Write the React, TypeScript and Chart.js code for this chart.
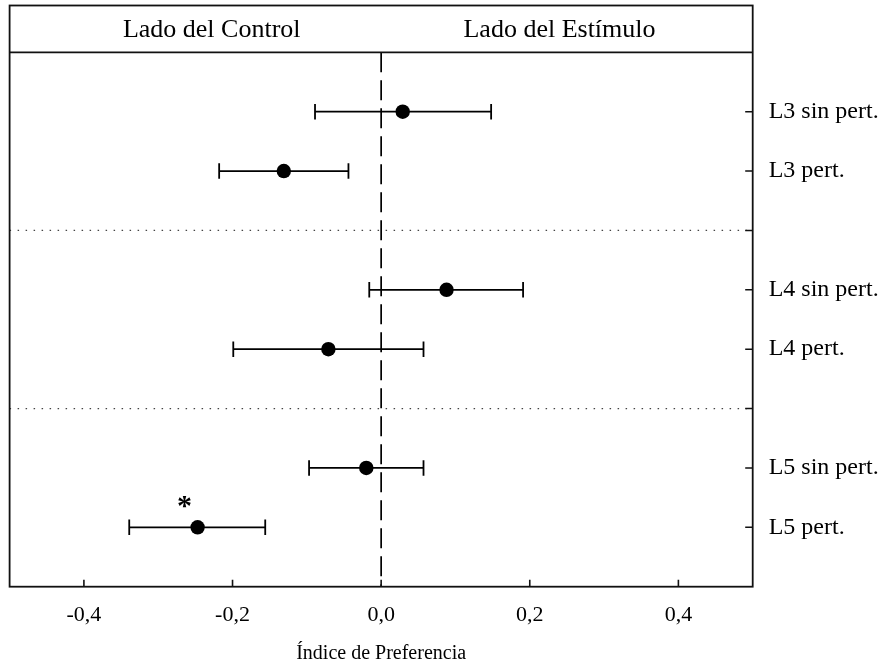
import React, { useEffect, useRef } from "react";
import { Chart, registerables } from "chart.js";

Chart.register(...registerables);

// ---- data ----
const rowLabels = ["L3 sin pert.", "L3 pert.", "L4 sin pert.", "L4 pert.", "L5 sin pert.", "L5 pert."];
const rowPositions = [1, 2, 4, 5, 7, 8];
const separatorPositions = [3, 6];
const means = [0.029, -0.131, 0.088, -0.071, -0.02, -0.247];
const lowerCI = [-0.089, -0.218, -0.016, -0.199, -0.097, -0.339];
const upperCI = [0.148, -0.044, 0.191, 0.057, 0.057, -0.156];
const significant = [false, false, false, false, false, true];
const xTicks = [-0.4, -0.2, 0, 0.2, 0.4];
const yTickPositions = [1, 2, 3, 4, 5, 6, 7, 8];
const headerLabels = ["Lado del Control", "Lado del Estímulo"];
const headerPositions = [-0.228, 0.24];
const xTitle = "Índice de Preferencia";

const X_MIN = -0.5;
const X_MAX = 0.5;
const Y_MIN = 0;
const Y_MAX = 9;

const FONT = "'Liberation Serif', 'Times New Roman', serif";

export default function App() {
  const ref = useRef<HTMLCanvasElement | null>(null);

  useEffect(() => {
    document.body.style.margin = "0";
    const canvas = ref.current;
    if (!canvas) return;

    const datasets: any[] = [];
    // zero reference line
    datasets.push({
      type: "line",
      data: [
        { x: 0, y: Y_MIN },
        { x: 0, y: Y_MAX },
      ],
      borderColor: "#000",
      borderWidth: 1.7,
      borderDash: [20, 8],
      pointRadius: 0,
    });
    // dotted separators
    separatorPositions.forEach((s) => {
      datasets.push({
        type: "line",
        data: [
          { x: X_MIN, y: s },
          { x: X_MAX, y: s },
        ],
        borderColor: "#444",
        borderWidth: 1.2,
        borderDash: [1.5, 6.5],
        pointRadius: 0,
      });
    });
    // error bars
    rowPositions.forEach((p, i) => {
      datasets.push({
        type: "line",
        data: [
          { x: lowerCI[i], y: p },
          { x: upperCI[i], y: p },
        ],
        borderColor: "#000",
        borderWidth: 1.8,
        pointStyle: "line",
        rotation: 90,
        pointRadius: 7.8,
        pointBorderWidth: 1.8,
        pointBorderColor: "#000",
        pointBackgroundColor: "#000",
      });
    });
    // means
    datasets.push({
      type: "scatter",
      data: rowPositions.map((p, i) => ({ x: means[i], y: p })),
      pointRadius: 7.2,
      pointBackgroundColor: "#000",
      pointBorderColor: "#000",
      pointBorderWidth: 0,
    });

    const framePlugin = {
      id: "framePlugin",
      afterDraw(chart: any) {
        const { ctx, chartArea } = chart;
        const xs = chart.scales.x;
        const ys = chart.scales.y;
        const headerTop = 5.5;
        ctx.save();
        ctx.strokeStyle = "#111";
        ctx.lineWidth = 1.8;
        // frame + header
        ctx.strokeRect(chartArea.left, headerTop, chartArea.right - chartArea.left, chartArea.bottom - headerTop);
        ctx.beginPath();
        ctx.moveTo(chartArea.left, chartArea.top);
        ctx.lineTo(chartArea.right, chartArea.top);
        ctx.stroke();
        // header texts
        ctx.fillStyle = "#000";
        ctx.font = `26px ${FONT}`;
        ctx.textAlign = "center";
        ctx.textBaseline = "middle";
        headerLabels.forEach((t, i) => {
          ctx.fillText(t, xs.getPixelForValue(headerPositions[i]), (headerTop + chartArea.top) / 2 + 1);
        });
        // inward ticks x
        ctx.lineWidth = 1.6;
        ctx.beginPath();
        xTicks.forEach((v) => {
          const px = xs.getPixelForValue(v);
          ctx.moveTo(px, chartArea.bottom);
          ctx.lineTo(px, chartArea.bottom - 7);
        });
        // inward ticks y
        yTickPositions.forEach((v) => {
          const py = ys.getPixelForValue(v);
          ctx.moveTo(chartArea.right, py);
          ctx.lineTo(chartArea.right - 7.5, py);
        });
        ctx.stroke();
        // significance markers
        ctx.font = `bold 30px ${FONT}`;
        significant.forEach((sig, i) => {
          if (!sig) return;
          const px = xs.getPixelForValue(means[i]) - 13;
          const py = ys.getPixelForValue(rowPositions[i]) - 18;
          const m = ctx.measureText("*");
          const asc = m.actualBoundingBoxAscent || 10;
          const desc = m.actualBoundingBoxDescent || 0;
          ctx.textBaseline = "alphabetic";
          ctx.fillText("*", px, py + (asc - desc) / 2);
        });
        ctx.restore();
      },
    };

    const chart = new Chart(canvas, {
      type: "scatter",
      data: { datasets },
      options: {
        animation: false,
        responsive: false,
        devicePixelRatio: 1,
        layout: { padding: { left: 8.3, top: 52.3, right: 0, bottom: 0 } },
        plugins: {
          legend: { display: false },
          tooltip: { enabled: false },
        },
        scales: {
          x: {
            type: "linear",
            position: "bottom",
            min: X_MIN,
            max: X_MAX,
            afterBuildTicks: (s: any) => {
              s.ticks = xTicks.map((v) => ({ value: v }));
            },
            afterFit: (s: any) => {
              s.height = 80.3;
            },
            grid: { display: false, drawTicks: false },
            border: { display: false },
            ticks: {
              autoSkip: false,
              maxRotation: 0,
              padding: 15,
              color: "#000",
              font: { family: FONT, size: 22 },
              callback: (v: any) => Number(v).toFixed(1).replace(".", ","),
            },
            title: {
              display: true,
              text: xTitle,
              color: "#000",
              font: { family: FONT, size: 20 },
              padding: { top: 0, bottom: 1 },
            },
          },
          y: {
            type: "linear",
            position: "right",
            min: Y_MIN,
            max: Y_MAX,
            reverse: true,
            afterBuildTicks: (s: any) => {
              s.ticks = yTickPositions.map((v) => ({ value: v }));
            },
            afterFit: (s: any) => {
              s.width = 130.3;
            },
            grid: { display: false, drawTicks: false },
            border: { display: false },
            ticks: {
              autoSkip: false,
              padding: 16,
              color: "#000",
              font: { family: FONT, size: 24 },
              callback: (v: any) => {
                const idx = rowPositions.indexOf(Number(v));
                return idx >= 0 ? rowLabels[idx] : "";
              },
            },
          },
        },
      },
      plugins: [framePlugin],
    } as any);

    return () => chart.destroy();
  }, []);

  return (
    <div style={{ width: 883, height: 667 }}>
      <canvas ref={ref} width={883} height={667} style={{ display: "block" }} />
    </div>
  );
}
